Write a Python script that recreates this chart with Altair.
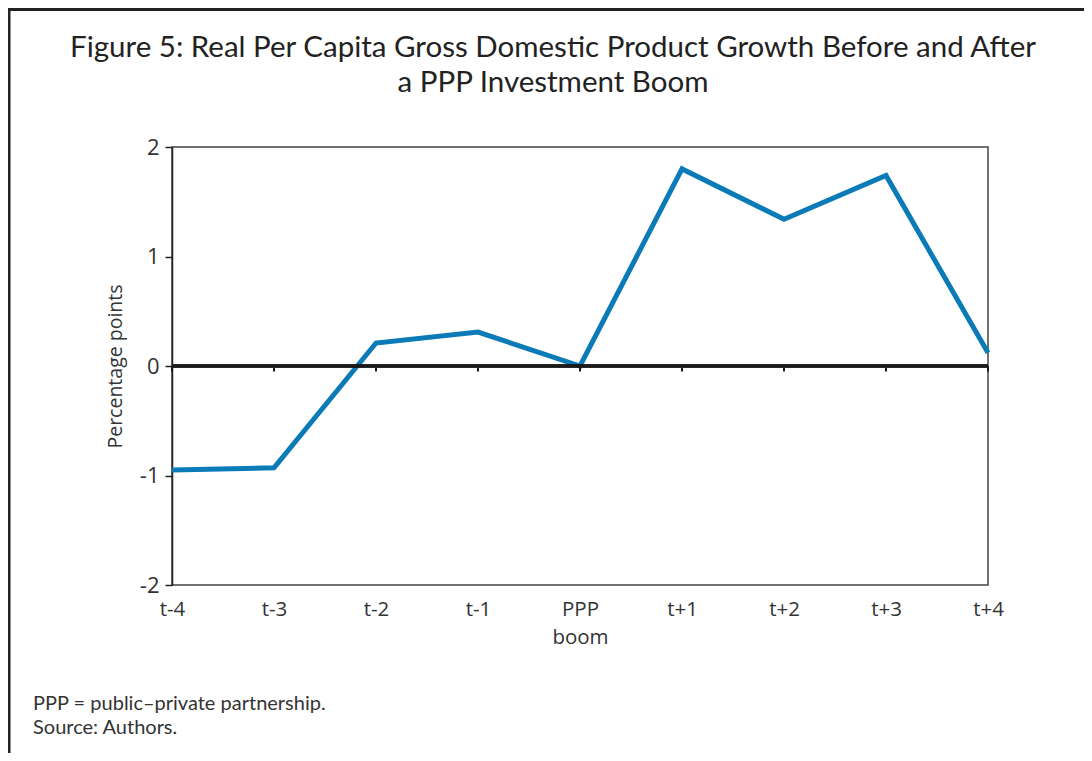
import altair as alt
import pandas as pd

periods = ["t-4", "t-3", "t-2", "t-1", "PPP boom", "t+1", "t+2", "t+3", "t+4"]
growth = [-0.95, -0.93, 0.21, 0.31, 0.0, 1.80, 1.34, 1.74, 0.12]
y_ticks = [-2, -1, 0, 1, 2]
title_lines = [
    "Figure 5: Real Per Capita Gross Domestic Product Growth Before and After",
    "a PPP Investment Boom",
]
notes = ["PPP = public\u2013private partnership.", "Source: Authors."]

df = pd.DataFrame({"period": periods, "growth": growth})

W, H = 816, 438
PAD = {"left": 164, "top": 139, "right": 96, "bottom": 168}

x_enc = alt.X(
    "period:N",
    sort=periods,
    scale=alt.Scale(type="point", padding=0),
    axis=alt.Axis(
        title=None, labelAngle=0, ticks=False, domain=False,
        labelExpr="split(datum.label, ' ')",
        labelFont="Open Sans", labelFontSize=20.5, labelColor="#333",
        labelPadding=14, labelLineHeight=28,
    ),
)
y_enc = alt.Y(
    "growth:Q",
    scale=alt.Scale(domain=[-2, 2], nice=False),
    axis=alt.Axis(
        values=y_ticks, grid=False, title="Percentage points",
        tickSize=7, tickColor="#222", tickWidth=1.5,
        domainColor="#222", domainWidth=1.5,
        labelExpr="toString(datum.value)",
        labelFont="Open Sans", labelFontSize=22, labelColor="#333", labelPadding=6,
        titleFont="Open Sans", titleFontSize=19.5, titleFontWeight="normal",
        titleColor="#333", titlePadding=14,
    ),
)

base = alt.Chart(df)

zero_line = base.mark_rule(color="#1a1a1a", strokeWidth=2.5).encode(y=alt.datum(0))
zero_ticks = base.mark_rule(color="#1a1a1a", strokeWidth=2).encode(
    x=alt.X("period:N", sort=periods), y=alt.datum(0), y2=alt.datum(-0.05)
)
line = base.mark_line(color="#0B7BB8", strokeWidth=5).encode(x=x_enc, y=y_enc)

one = alt.Data(values=[{"k": 0}])
frame_left = alt.Chart(one).mark_rule(color="#222", strokeWidth=3).encode(
    x=alt.value(-163), y=alt.value(-139), y2=alt.value(606)
)
frame_top = alt.Chart(one).mark_rule(color="#222", strokeWidth=3).encode(
    x=alt.value(-164), x2=alt.value(912), y=alt.value(-137.5)
)
footnote = alt.Chart(one).mark_text(
    align="left", baseline="middle", font="Lato", fontSize=20, color="#333",
    lineHeight=24, text=notes,
).encode(x=alt.value(-139), y=alt.value(557))

chart = (
    alt.layer(line, zero_line, zero_ticks, frame_left, frame_top, footnote)
    .properties(
        width=W, height=H,
        autosize=alt.AutoSizeParams(type="none"),
        padding=PAD,
        title=alt.Title(
            text=title_lines, anchor="middle", frame="group", dx=-27, offset=-92,
            font="Lato", fontSize=29.5, fontWeight="normal", color="#222", lineHeight=35,
        ),
    )
    .configure_view(stroke="#444", strokeWidth=1.5)
)

chart.save("out.html", embed_options={"renderer": "svg", "actions": False})
